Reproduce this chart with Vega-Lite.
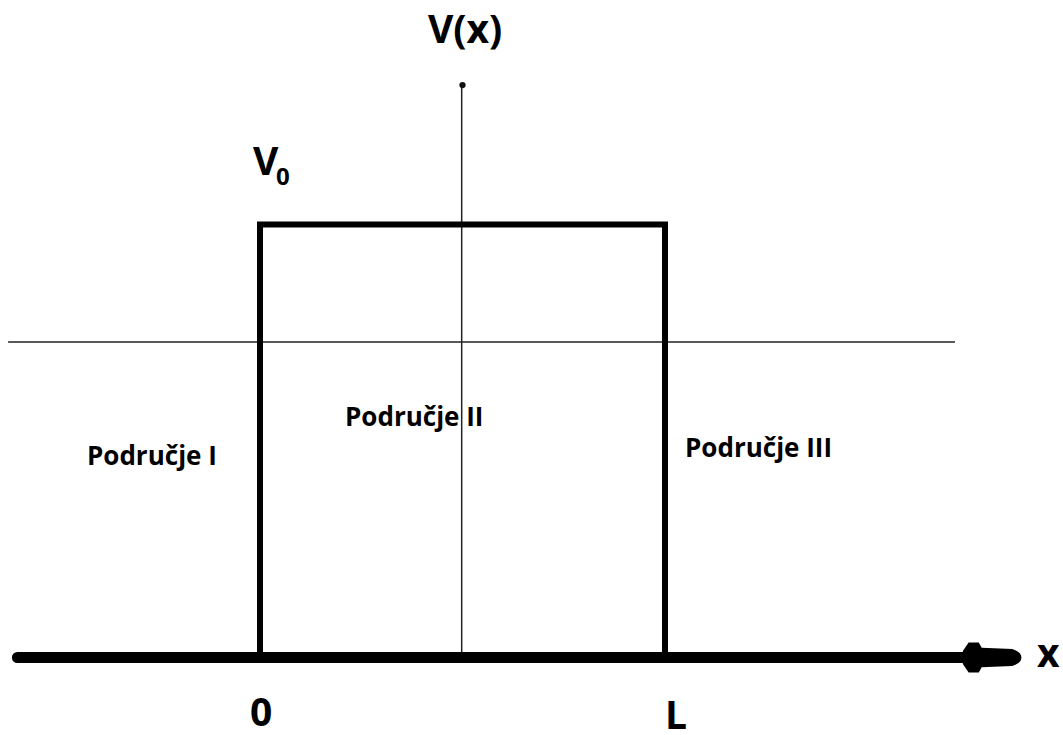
{
  "$schema": "https://vega.github.io/schema/vega-lite/v6.json",
  "width": 1063,
  "height": 735,
  "padding": 0,
  "autosize": {"type": "none"},
  "background": "white",
  "config": {"view": {"stroke": null}},
  "datasets": {
    "box": [
      {"i": 0, "x": 0, "v": 0},
      {"i": 1, "x": 0, "v": 1},
      {"i": 2, "x": 1, "v": 1},
      {"i": 3, "x": 1, "v": 0}
    ],
    "axisline": [{"x": -0.599, "x2": 1.77, "v": 0}],
    "thin": [
      {"x": 0.498, "x2": 0.498, "v": 0, "v2": 1.32},
      {"x": -0.622, "x2": 1.716, "v": 0.7286, "v2": 0.7286}
    ],
    "dot": [{"x": 0.5, "v": 1.322}],
    "arrow": [{"x": 1.807, "v": 0}],
    "big": [
      {"x": 0.4148, "v": 1.4192, "label": "V(x)"},
      {"x": -0.0173, "v": 1.1143, "label": "V"},
      {"x": -0.0247, "v": -0.1582, "label": "0"},
      {"x": 1.0, "v": -0.1651, "label": "L"},
      {"x": 1.9185, "v": -0.0219, "label": "x"}
    ],
    "sub": [{"x": 0.0395, "v": 1.0912, "label": "0"}],
    "regions": [
      {"x": -0.4272, "v": 0.4446, "label": "Područje I"},
      {"x": 0.2099, "v": 0.5346, "label": "Područje II"},
      {"x": 1.0494, "v": 0.463, "label": "Područje III"}
    ]
  },
  "layer": [
    {
      "data": {"name": "thin"},
      "mark": {"type": "rule", "stroke": "#222", "strokeWidth": 1.5},
      "encoding": {
        "x": {"field": "x", "type": "quantitative", "scale": {"domain": [-0.64198, 1.98272], "zero": false, "nice": false}, "axis": null},
        "x2": {"field": "x2"},
        "y": {"field": "v", "type": "quantitative", "scale": {"domain": [-0.17898, 1.51848], "zero": false, "nice": false}, "axis": null},
        "y2": {"field": "v2"}
      }
    },
    {
      "data": {"name": "dot"},
      "mark": {"type": "point", "shape": "circle", "filled": true, "color": "#111", "size": 40, "opacity": 1},
      "encoding": {
        "x": {"field": "x", "type": "quantitative", "axis": null},
        "y": {"field": "v", "type": "quantitative", "axis": null}
      }
    },
    {
      "data": {"name": "box"},
      "mark": {"type": "line", "color": "black", "strokeWidth": 6, "strokeJoin": "miter", "strokeCap": "butt"},
      "encoding": {
        "x": {"field": "x", "type": "quantitative", "axis": null},
        "y": {"field": "v", "type": "quantitative", "axis": null},
        "order": {"field": "i"}
      }
    },
    {
      "data": {"name": "axisline"},
      "mark": {"type": "rule", "color": "black", "strokeWidth": 11, "strokeCap": "round"},
      "encoding": {
        "x": {"field": "x", "type": "quantitative", "axis": null},
        "x2": {"field": "x2"},
        "y": {"field": "v", "type": "quantitative", "axis": null}
      }
    },
    {
      "data": {"name": "arrow"},
      "mark": {"type": "point", "filled": true, "color": "black", "opacity": 1, "size": 3364,
        "shape": "M-1,-0.22 L-0.8,-0.52 L-0.45,-0.52 L-0.35,-0.34 L0.7,-0.29 Q1.02,-0.2 1.02,0 Q1.02,0.2 0.7,0.29 L-0.35,0.34 L-0.45,0.52 L-0.8,0.52 L-1,0.22 Z"},
      "encoding": {
        "x": {"field": "x", "type": "quantitative", "axis": null},
        "y": {"field": "v", "type": "quantitative", "axis": null}
      }
    },
    {
      "data": {"name": "big"},
      "mark": {"type": "text", "font": "Open Sans", "fontWeight": "bold", "fontSize": 39, "align": "left", "baseline": "alphabetic", "color": "black"},
      "encoding": {
        "x": {"field": "x", "type": "quantitative", "axis": null},
        "y": {"field": "v", "type": "quantitative", "axis": null},
        "text": {"field": "label"}
      }
    },
    {
      "data": {"name": "sub"},
      "mark": {"type": "text", "font": "Open Sans", "fontWeight": "bold", "fontSize": 24, "align": "left", "baseline": "alphabetic", "color": "black"},
      "encoding": {
        "x": {"field": "x", "type": "quantitative", "axis": null},
        "y": {"field": "v", "type": "quantitative", "axis": null},
        "text": {"field": "label"}
      }
    },
    {
      "data": {"name": "regions"},
      "mark": {"type": "text", "font": "Open Sans", "fontWeight": "bold", "fontSize": 26, "align": "left", "baseline": "alphabetic", "color": "black"},
      "encoding": {
        "x": {"field": "x", "type": "quantitative", "axis": null},
        "y": {"field": "v", "type": "quantitative", "axis": null},
        "text": {"field": "label"}
      }
    }
  ]
}
